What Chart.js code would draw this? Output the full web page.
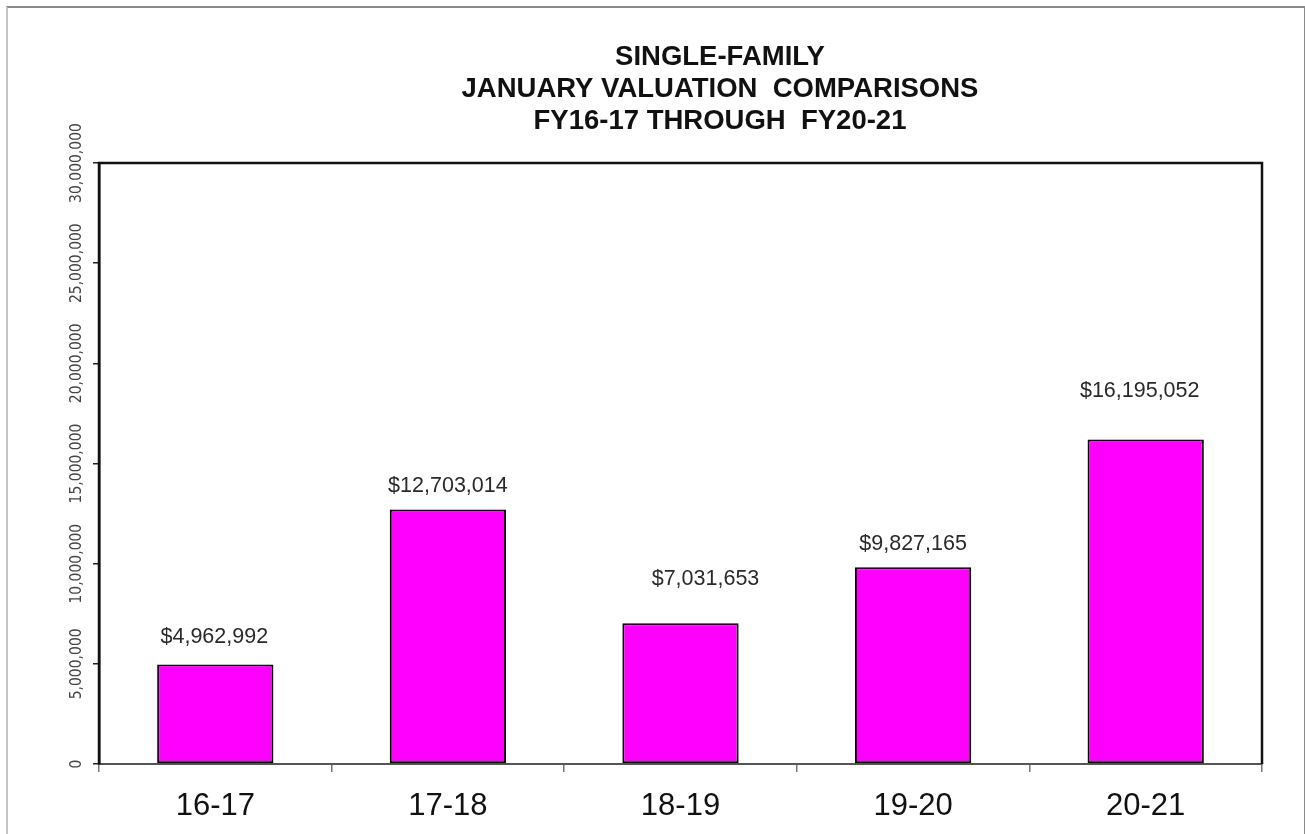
<!DOCTYPE html>
<html>
<head>
<meta charset="utf-8">
<script src="https://cdn.jsdelivr.net/npm/chart.js@4"></script>
<style>
    html, body { margin: 0; padding: 0; background: #fff; overflow: hidden; }
    #wrap { position: relative; width: 1305px; height: 834px; }
    #frame {
        position: absolute; left: 6px; top: 6px; width: 1296px; height: 840px;
        border-top: 2px solid #8a8a8a; border-right: 2px solid #8a8a8a; border-left: 2px solid #c4c4c4;
        pointer-events: none;
    }
    canvas { position: absolute; left: 0; top: 0; }
</style>
</head>
<body>
<div id="wrap">
    <canvas id="chart" width="1305" height="834"></canvas>
    <div id="frame"></div>
</div>
<script>
// chart data
const categories = ["16-17", "17-18", "18-19", "19-20", "20-21"];
const valuations = [4962992, 12703014, 7031653, 9827165, 16195052];
const yTicks = [0, 5000000, 10000000, 15000000, 20000000, 25000000, 30000000];
const titleLines = ["SINGLE-FAMILY", "JANUARY VALUATION  COMPARISONS", "FY16-17 THROUGH  FY20-21"];

// where each value label sits relative to the top of its bar (Excel placed them by hand)
const labelLift = [27, 23, 44, 23, 48];
const labelShift = [-1, 0, 25, 0, -6];

function money(v) {
    return "$" + v.toLocaleString("en-US");
}

const titlePlugin = {
    id: "titleBlock",
    afterDraw(chart) {
        const ctx = chart.ctx;
        ctx.save();
        ctx.font = "bold 27.5px 'Liberation Sans', Arial, sans-serif";
        ctx.fillStyle = "#111";
        ctx.textAlign = "center";
        ctx.textBaseline = "middle";
        titleLines.forEach((line, i) => {
            ctx.fillText(line, 720, 57 + i * 32);
        });
        ctx.restore();
    }
};

const framePlugin = {
    id: "plotFrame",
    afterDatasetsDraw(chart) {
        const { ctx, chartArea: a } = chart;
        ctx.save();
        ctx.strokeStyle = "#111";
        ctx.lineWidth = 2.5;
        ctx.beginPath();
        ctx.moveTo(a.left, a.bottom);
        ctx.lineTo(a.left, a.top);
        ctx.lineTo(a.right, a.top);
        ctx.lineTo(a.right, a.bottom);
        ctx.stroke();
        ctx.restore();
    }
};

const valueLabels = {
    id: "valueLabels",
    afterDatasetsDraw(chart) {
        const ctx = chart.ctx;
        const meta = chart.getDatasetMeta(0);
        ctx.save();
        ctx.font = "21.5px 'Liberation Sans', Arial, sans-serif";
        ctx.fillStyle = "#2a2a2a";
        ctx.textAlign = "center";
        ctx.textBaseline = "middle";
        meta.data.forEach((bar, i) => {
            ctx.fillText(money(valuations[i]), bar.x + labelShift[i], bar.y - labelLift[i]);
        });
        ctx.restore();
    }
};

new Chart(document.getElementById("chart"), {
    type: "bar",
    data: {
        labels: categories,
        datasets: [{
            data: valuations,
            backgroundColor: "#ff00ff",
            borderColor: "#000",
            borderWidth: 2,
            borderSkipped: false,
            barPercentage: 0.5,
            categoryPercentage: 1.0
        }]
    },
    options: {
        responsive: false,
        animation: false,
        events: [],
        layout: { padding: { top: 163, right: 43, left: 0, bottom: 0 } },
        plugins: {
            legend: { display: false },
            title: { display: false },
            tooltip: { enabled: false }
        },
        scales: {
            x: {
                afterFit(scale) { scale.height = 70; },
                grid: {
                    display: true,
                    drawOnChartArea: false,
                    drawTicks: true,
                    tickLength: 8,
                    color: "#777",
                    lineWidth: 1.5
                },
                border: { display: true, color: "#555", width: 2 },
                ticks: {
                    color: "#111",
                    padding: 16,
                    font: { family: "'Liberation Sans', Arial, sans-serif", size: 31 }
                }
            },
            y: {
                min: 0,
                max: 30000000,
                afterFit(scale) { scale.width = 99; },
                afterBuildTicks(scale) {
                    scale.ticks = yTicks.map(v => ({ value: v }));
                },
                grid: {
                    display: true,
                    drawOnChartArea: false,
                    drawTicks: true,
                    tickLength: 6,
                    color: "#222",
                    lineWidth: 1.5
                },
                border: { display: true, color: "#111", width: 2.5 },
                ticks: {
                    minRotation: 90,
                    maxRotation: 90,
                    crossAlign: "center",
                    padding: -23.5,
                    color: "#444",
                    font: { family: "'Liberation Sans Narrow', 'DejaVu Sans Condensed', Arial, sans-serif", size: 15.5 },
                    callback: v => v.toLocaleString("en-US")
                }
            }
        }
    },
    plugins: [titlePlugin, framePlugin, valueLabels]
});
</script>
</body>
</html>
